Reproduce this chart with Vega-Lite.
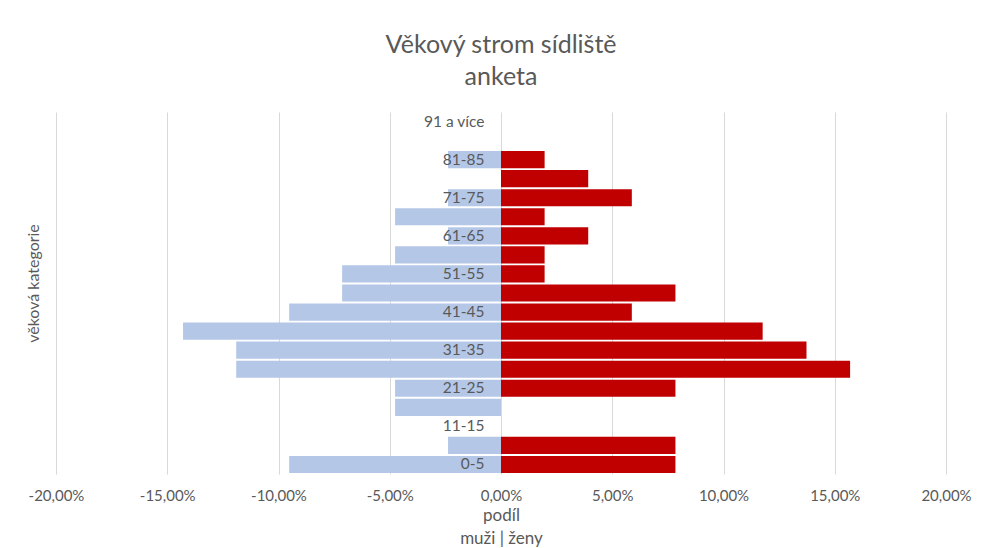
{
  "$schema": "https://vega.github.io/schema/vega-lite/v6.json",
  "width": 890,
  "height": 362,
  "autosize": {"type": "none"},
  "padding": {"left": 56, "top": 112, "right": 39, "bottom": 74},
  "background": "white",
  "title": {
    "text": ["Věkový strom sídliště", "anketa"],
    "font": "Lato",
    "fontSize": 25,
    "fontWeight": "normal",
    "color": "#595959",
    "anchor": "middle",
    "frame": "group",
    "lineHeight": 32,
    "offset": 22
  },
  "data": {
    "values": [
      {"kategorie": "0-5", "pohlavi": "muži", "podil": -0.0952},
      {"kategorie": "0-5", "pohlavi": "ženy", "podil": 0.0784},
      {"kategorie": "6-10", "pohlavi": "muži", "podil": -0.0238},
      {"kategorie": "6-10", "pohlavi": "ženy", "podil": 0.0784},
      {"kategorie": "11-15", "pohlavi": "muži", "podil": 0},
      {"kategorie": "11-15", "pohlavi": "ženy", "podil": 0},
      {"kategorie": "16-20", "pohlavi": "muži", "podil": -0.0476},
      {"kategorie": "16-20", "pohlavi": "ženy", "podil": 0},
      {"kategorie": "21-25", "pohlavi": "muži", "podil": -0.0476},
      {"kategorie": "21-25", "pohlavi": "ženy", "podil": 0.0784},
      {"kategorie": "26-30", "pohlavi": "muži", "podil": -0.119},
      {"kategorie": "26-30", "pohlavi": "ženy", "podil": 0.1569},
      {"kategorie": "31-35", "pohlavi": "muži", "podil": -0.119},
      {"kategorie": "31-35", "pohlavi": "ženy", "podil": 0.1373},
      {"kategorie": "36-40", "pohlavi": "muži", "podil": -0.1429},
      {"kategorie": "36-40", "pohlavi": "ženy", "podil": 0.1176},
      {"kategorie": "41-45", "pohlavi": "muži", "podil": -0.0952},
      {"kategorie": "41-45", "pohlavi": "ženy", "podil": 0.0588},
      {"kategorie": "46-50", "pohlavi": "muži", "podil": -0.0714},
      {"kategorie": "46-50", "pohlavi": "ženy", "podil": 0.0784},
      {"kategorie": "51-55", "pohlavi": "muži", "podil": -0.0714},
      {"kategorie": "51-55", "pohlavi": "ženy", "podil": 0.0196},
      {"kategorie": "56-60", "pohlavi": "muži", "podil": -0.0476},
      {"kategorie": "56-60", "pohlavi": "ženy", "podil": 0.0196},
      {"kategorie": "61-65", "pohlavi": "muži", "podil": -0.0238},
      {"kategorie": "61-65", "pohlavi": "ženy", "podil": 0.0392},
      {"kategorie": "66-70", "pohlavi": "muži", "podil": -0.0476},
      {"kategorie": "66-70", "pohlavi": "ženy", "podil": 0.0196},
      {"kategorie": "71-75", "pohlavi": "muži", "podil": -0.0238},
      {"kategorie": "71-75", "pohlavi": "ženy", "podil": 0.0588},
      {"kategorie": "76-80", "pohlavi": "muži", "podil": 0},
      {"kategorie": "76-80", "pohlavi": "ženy", "podil": 0.0392},
      {"kategorie": "81-85", "pohlavi": "muži", "podil": -0.0238},
      {"kategorie": "81-85", "pohlavi": "ženy", "podil": 0.0196},
      {"kategorie": "86-90", "pohlavi": "muži", "podil": 0},
      {"kategorie": "86-90", "pohlavi": "ženy", "podil": 0},
      {"kategorie": "91 a více", "pohlavi": "muži", "podil": 0},
      {"kategorie": "91 a více", "pohlavi": "ženy", "podil": 0}
    ]
  },
  "mark": {"type": "bar"},
  "encoding": {
    "y": {
      "field": "kategorie",
      "type": "nominal",
      "sort": ["91 a více", "86-90", "81-85", "76-80", "71-75", "66-70", "61-65", "56-60", "51-55", "46-50", "41-45", "36-40", "31-35", "26-30", "21-25", "16-20", "11-15", "6-10", "0-5"],
      "scale": {"paddingInner": 0.1, "paddingOuter": 0.05},
      "axis": {
        "title": "věková kategorie",
        "values": ["91 a více", "81-85", "71-75", "61-65", "51-55", "41-45", "31-35", "21-25", "11-15", "0-5"],
        "offset": -445,
        "zindex": 1,
        "domain": false,
        "ticks": false,
        "tickSize": 0,
        "grid": false,
        "labelPadding": 17,
        "labelFont": "Lato",
        "labelFontSize": 15.5,
        "labelColor": "#595959",
        "titleFont": "Lato",
        "titleFontSize": 16,
        "titleFontWeight": "normal",
        "titleColor": "#595959",
        "titleAngle": -90,
        "titleBaseline": "middle",
        "titleAlign": "center",
        "titleX": -468,
        "titleY": 171
      }
    },
    "x": {
      "field": "podil",
      "type": "quantitative",
      "stack": null,
      "scale": {"domain": [-0.2, 0.2]},
      "axis": {
        "title": ["podíl", "muži | ženy"],
        "values": [-0.2, -0.15, -0.1, -0.05, 0, 0.05, 0.1, 0.15, 0.2],
        "labelExpr": "replace(replace(format(datum.value, '.2%'), '.', ','), '−', '-')",
        "grid": true,
        "gridColor": "#D9D9D9",
        "gridWidth": 1,
        "domain": false,
        "ticks": false,
        "tickSize": 0,
        "labelFlush": false,
        "labelOverlap": false,
        "labelPadding": 14,
        "labelFont": "Lato",
        "labelFontSize": 15,
        "labelColor": "#595959",
        "titleFont": "Lato",
        "titleFontSize": 17,
        "titleFontWeight": "normal",
        "titleColor": "#595959",
        "titleLineHeight": 23,
        "titlePadding": 4
      }
    },
    "color": {
      "field": "pohlavi",
      "type": "nominal",
      "scale": {"domain": ["muži", "ženy"], "range": ["#B4C7E7", "#C00000"]},
      "legend": null
    }
  },
  "config": {"view": {"stroke": null}}
}
